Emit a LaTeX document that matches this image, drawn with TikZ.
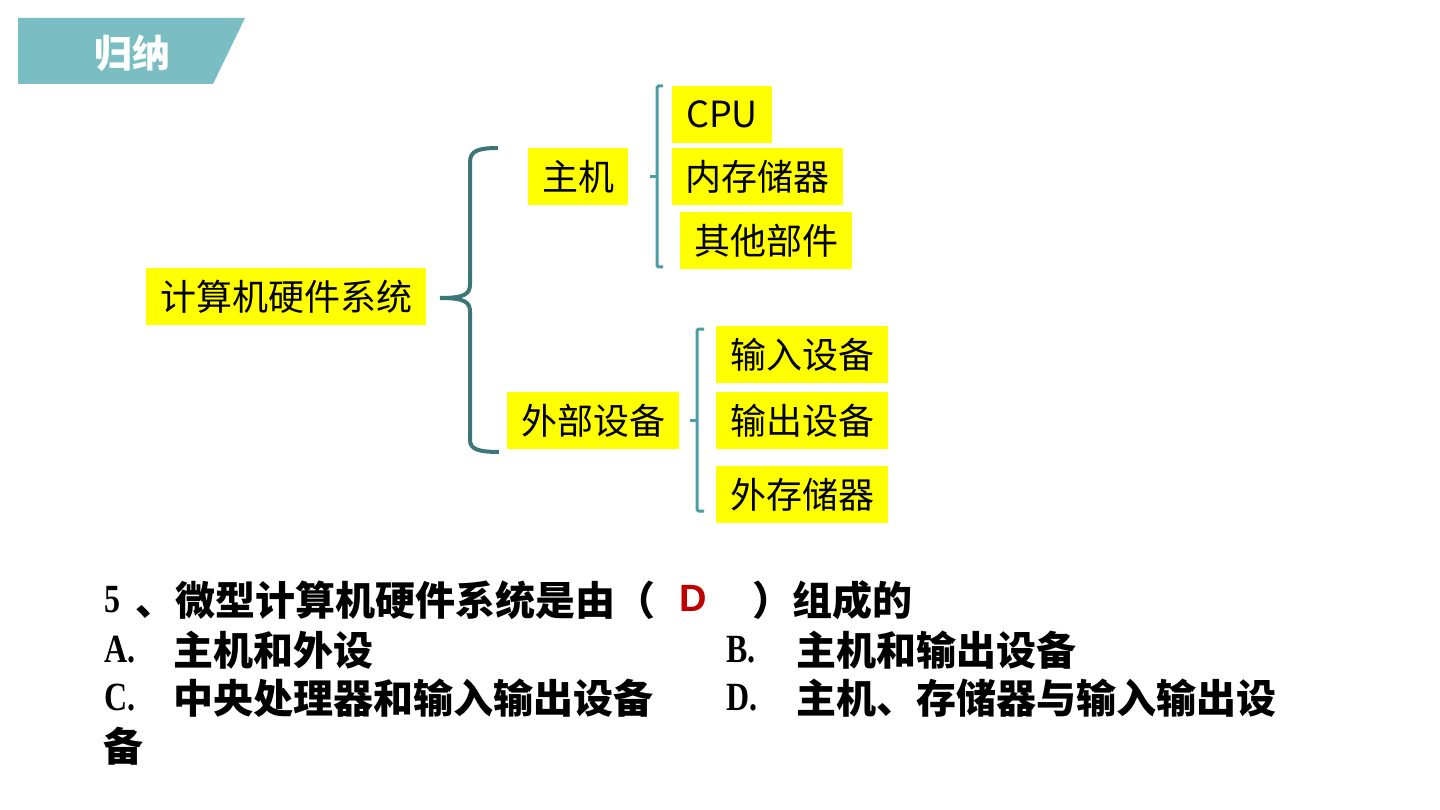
\documentclass[tikz,border=0pt]{standalone}
\usepackage{fontspec}
\newfontfamily\cjk{Noto Sans CJK SC}
\newfontfamily\latserif{Liberation Serif}[FakeStretch=0.8]
\newfontfamily\latsans{Liberation Sans}
\definecolor{headteal}{HTML}{7ABEC3}
\definecolor{bracedark}{HTML}{3E7578}
\definecolor{bracelight}{HTML}{4F9DA4}
\definecolor{hl}{HTML}{FFFF00}
\definecolor{ansred}{HTML}{C00000}
\tikzset{
  hlbox/.style={fill=hl, inner sep=0pt, minimum height=57pt, text=black,
    font=\cjk\fontsize{36}{40}\selectfont},
  bigbrace/.style={draw=bracedark, line width=4pt},
  smallbrace/.style={draw=bracelight, line width=3pt, rounded corners=1.5pt},
  qtext/.style={anchor=west, inner sep=0pt, text=black,
    font=\cjk\bfseries\fontsize{40}{44}\selectfont},
  qlat/.style={anchor=west, inner sep=0pt, text=black,
    font=\latserif\bfseries\fontsize{40}{44}\selectfont},
}
\begin{document}
\begin{tikzpicture}[x=1pt,y=-1pt]
\useasboundingbox (0,0) rectangle (1440,810);
\fill[white] (0,0) rectangle (1440,810);
% header
\fill[headteal] (18,18) -- (245,18) -- (213,84) -- (18,84) -- cycle;
\node[text=white, inner sep=0pt, font=\cjk\bfseries\fontsize{38}{40}\selectfont] (title) at (132,53) {归纳};
% nodes
\node[hlbox, minimum width=280pt] (root) at (286,296.5) {计算机硬件系统};
\node[hlbox, minimum width=100pt] (host) at (578,176.5) {主机};
\node[hlbox, minimum width=100pt] (cpu) at (722,114.5) {CPU};
\node[hlbox, minimum width=171pt] (mem) at (757.5,176.5) {内存储器};
\node[hlbox, minimum width=172pt] (other) at (766,240.5) {其他部件};
\node[hlbox, minimum width=172pt] (ext) at (593,420.5) {外部设备};
\node[hlbox, minimum width=172pt] (inp) at (802,354.5) {输入设备};
\node[hlbox, minimum width=172pt] (outp) at (802,420.5) {输出设备};
\node[hlbox, minimum width=172pt] (store) at (802,494.5) {外存储器};
% big brace
\coordinate (bbtop) at (498,148);
\coordinate (bbtip) at (440,298);
\coordinate (bbbot) at (499,452);
\draw[bigbrace] (bbtop) .. controls (478,148) and (470,151) .. (470,162) -- (470,284)
  .. controls (470,294) and (465,298) .. (bbtip);
\draw[bigbrace] (bbtip) .. controls (465,298) and (470,302) .. (470,312) -- (470,440)
  .. controls (470,449) and (478,452) .. (bbbot);
% small brace 1
\coordinate (s1top) at (663,86);
\coordinate (s1bot) at (663,267);
\coordinate (s1tip) at (650,177);
\draw[smallbrace] (s1top) -- (657,86) -- (657,267) -- (s1bot);
\draw[draw=bracelight, line width=3pt] (s1tip) -- (657,177);
% small brace 2
\coordinate (s2top) at (704,329);
\coordinate (s2bot) at (704,511);
\coordinate (s2tip) at (690,420);
\draw[smallbrace] (s2top) -- (697,329) -- (697,511) -- (s2bot);
\draw[draw=bracelight, line width=3pt] (s2tip) -- (697,420);
% question
\node[qlat] (q5) at (104,600) {5};
\node[qtext] (q1a) at (135,600) {、微型计算机硬件系统是由（};
\node[inner sep=0pt, text=ansred, font=\latsans\bfseries\fontsize{38}{40}\selectfont] (ans) at (693,598) {D};
\node[qtext] (q1b) at (752,600) {）组成的};
\node[qlat] (qa) at (104,650) {A.};
\node[qtext] (qat) at (173,650) {主机和外设};
\node[qlat] (qb) at (726,650) {B.};
\node[qtext] (qbt) at (796,650) {主机和输出设备};
\node[qlat] (qc) at (104,698) {C.};
\node[qtext] (qct) at (173,698) {中央处理器和输入输出设备};
\node[qlat] (qd) at (726,698) {D.};
\node[qtext] (qdt) at (796,698) {主机、存储器与输入输出设};
\node[qtext] (qd2) at (103,746) {备};
\end{tikzpicture}
\end{document}
